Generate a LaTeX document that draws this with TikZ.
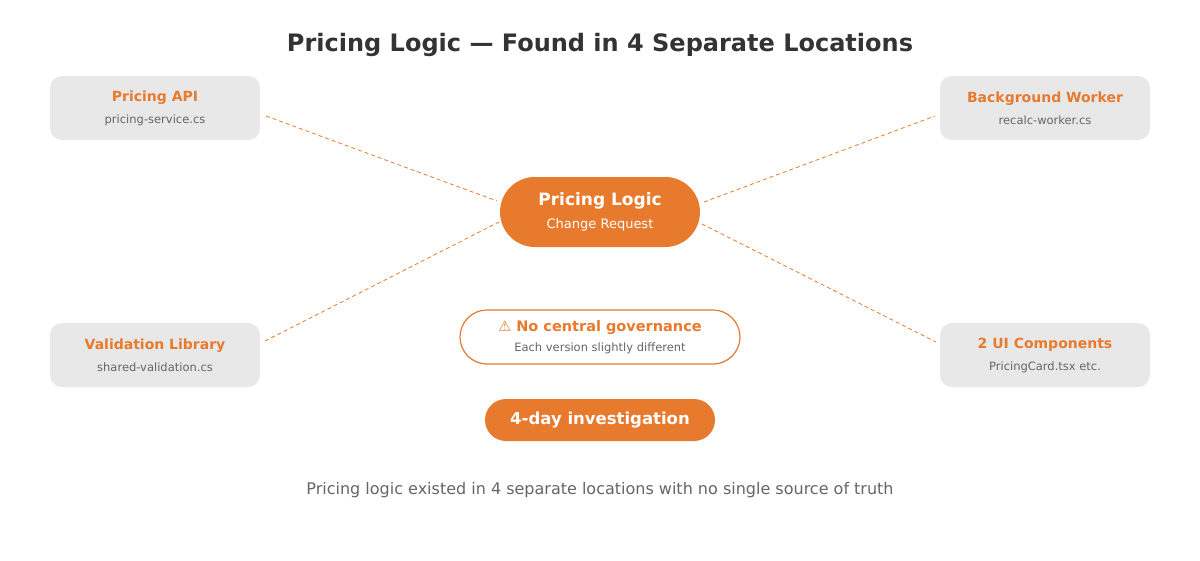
\documentclass[tikz,border=0pt]{standalone}
\usepackage{fontspec}
\setmainfont{DejaVu Sans}
\definecolor{org}{HTML}{E87A2E}
\definecolor{gbox}{HTML}{E8E8E8}
\definecolor{txt}{HTML}{333333}
\definecolor{sub}{HTML}{666666}
\begin{document}
\begin{tikzpicture}[x=1pt,y=-1pt,
  src/.style={fill=gbox,rounded corners=12pt,minimum width=210pt,minimum height=64pt,align=center,inner sep=0pt},
  pill/.style={rounded corners=30pt,align=center,inner sep=0pt},
  link/.style={org,dashed,dash pattern=on 4pt off 3pt,line width=0.8pt}]
\useasboundingbox[fill=white] (0,0) rectangle (1200,560);
\node[txt,font=\fontsize{24}{28}\selectfont\bfseries] (title) at (600,45) {Pricing Logic — Found in 4 Separate Locations};
\node[src] (api) at (155,108) {{\fontsize{14}{17}\selectfont\bfseries\color{org}Pricing API}\\[10pt]{\fontsize{11.5}{14}\selectfont\color{sub}pricing-service.cs}};
\node[src] (bw) at (1045,108) {{\fontsize{14}{17}\selectfont\bfseries\color{org}Background Worker}\\[10pt]{\fontsize{11.5}{14}\selectfont\color{sub}recalc-worker.cs}};
\node[src] (val) at (155,355) {{\fontsize{14}{17}\selectfont\bfseries\color{org}Validation Library}\\[10pt]{\fontsize{11.5}{14}\selectfont\color{sub}shared-validation.cs}};
\node[src] (ui) at (1045,355) {{\fontsize{14}{17}\selectfont\bfseries\color{org}2 UI Components}\\[10pt]{\fontsize{11.5}{14}\selectfont\color{sub}PricingCard.tsx etc.}};
\node[pill,fill=org,minimum width=200pt,minimum height=70pt,rounded corners=35pt,text=white] (c) at (600,212) {{\fontsize{17}{20}\selectfont\bfseries Pricing Logic}\\[8pt]{\fontsize{13}{16}\selectfont Change Request}};
\node[pill,draw=org,line width=1.2pt,fill=white,minimum width=280pt,minimum height=54pt,rounded corners=27pt] (w) at (600,337) {{\fontsize{14.5}{17}\selectfont\bfseries\color{org}⚠ No central governance}\\[8pt]{\fontsize{11.5}{14}\selectfont\color{sub}Each version slightly different}};
\node[pill,fill=org,minimum width=230pt,minimum height=42pt,rounded corners=21pt,text=white,font=\fontsize{16.5}{20}\selectfont\bfseries] (inv) at (600,420) {4-day investigation};
\node[sub,font=\fontsize{16}{19}\selectfont] (foot) at (600,490) {Pricing logic existed in 4 separate locations with no single source of truth};
\coordinate (a1) at (266,116); \coordinate (a2) at (497,201);
\coordinate (b1) at (935,116); \coordinate (b2) at (704,202);
\coordinate (v1) at (265,341); \coordinate (v2) at (499,222);
\coordinate (u1) at (936,342); \coordinate (u2) at (702,224);
\draw[link] (a1) -- (a2);
\draw[link] (b2) -- (b1);
\draw[link] (v1) -- (v2);
\draw[link] (u2) -- (u1);
\end{tikzpicture}
\end{document}
